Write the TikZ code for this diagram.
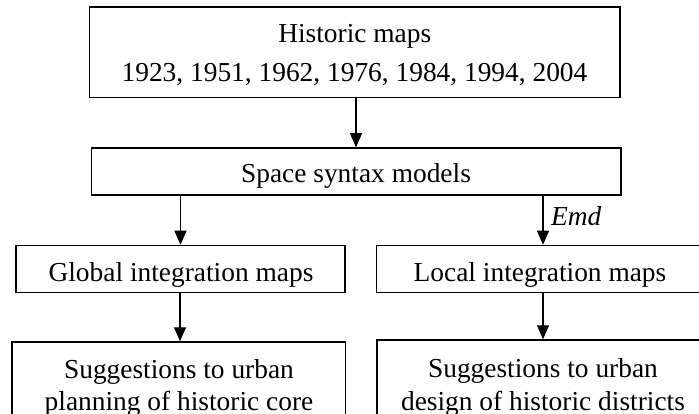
\documentclass[tikz,border=0pt]{standalone}
\usepackage{fontspec}
\setmainfont{Liberation Serif}
\usetikzlibrary{arrows.meta}
\begin{document}
\begin{tikzpicture}[x=1pt,y=-1pt,
  box/.style={draw=black, line width=1.5pt, inner sep=0pt, fill=white},
  txt/.style={inner sep=0pt, anchor=base, font=\fontsize{27.4pt}{33pt}\selectfont},
  arr/.style={draw=black, line width=1.2pt, -{Triangle[width=12pt,length=14pt]}}]
\useasboundingbox (0,0) rectangle (699,414);
\clip (0,0) rectangle (699,414);
\fill[white] (0,0) rectangle (699,414);
% boxes
\node[box, minimum width=530.5pt, minimum height=90.5pt] (top) at (354.75,52.25) {};
\node[box, minimum width=529.5pt, minimum height=47pt] (ssm) at (356,171.5) {};
\node[box, minimum width=329pt, minimum height=47pt] (gim) at (180.5,269) {};
\node[box, minimum width=330pt, minimum height=47pt] (lim) at (541.5,269) {};
\node[box, minimum width=333.5pt, minimum height=120pt] (sup) at (178.75,402) {};
\node[box, minimum width=330pt, minimum height=120pt] (sud) at (542,400) {};
% texts
\node[txt] (t1) at (354.75,43) {Historic maps};
\node[txt] (t2) at (354.5,82) {1923, 1951, 1962, 1976, 1984, 1994, 2004};
\node[txt] (t3) at (356,183) {Space syntax models};
\node[txt] (t4) at (181,281.5) {Global integration maps};
\node[txt] (t5) at (540,281.5) {Local integration maps};
\node[txt] (t6) at (179,378) {Suggestions to urban};
\node[txt] (t7) at (179,410.5) {planning of historic core};
\node[txt] (t8) at (543,377) {Suggestions to urban};
\node[txt] (t9) at (543,410) {design of historic districts};
% arrows
\draw[arr] (356,0 |- top.south) -- (356,0 |- ssm.north);
\draw[arr] (gim.north |- ssm.south) -- (gim.north);
\draw[arr] (543,0 |- ssm.south) -- (543,0 |- lim.north);
\draw[arr] (180,0 |- gim.south) -- (180,0 |- sup.north);
\draw[arr] (543,0 |- lim.south) -- (543,0 |- sud.north);
\node[txt, anchor=base west, font=\fontsize{27.4pt}{33pt}\selectfont\itshape] (emd) at (551,226) {Emd};
\end{tikzpicture}
\end{document}
